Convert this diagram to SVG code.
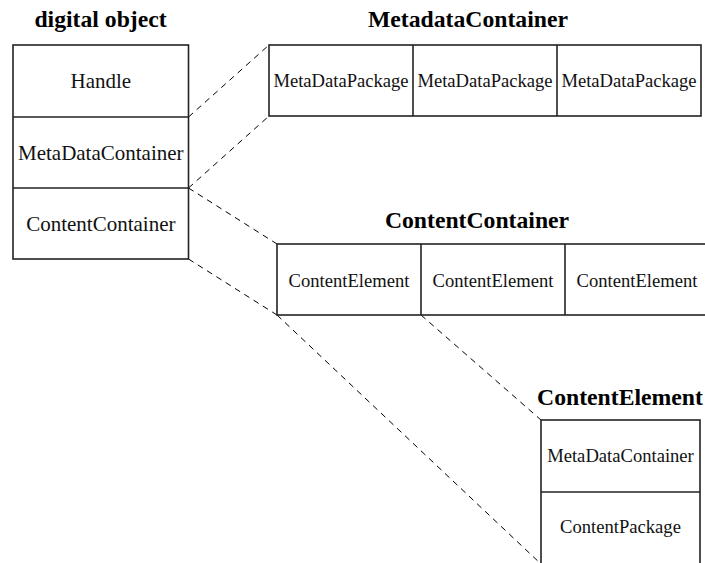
<svg xmlns="http://www.w3.org/2000/svg" width="705" height="563" viewBox="0 0 705 563">
<style>
.box{fill:#fff;stroke:#222;stroke-width:1.6}
.div{stroke:#222;stroke-width:1.6}
.dash{stroke:#000;stroke-width:1;stroke-dasharray:6,5;fill:none}
.title{font-family:"Liberation Serif","Times New Roman",serif;font-weight:bold;font-size:23.7px;text-anchor:middle;fill:#000}
.lbl{font-family:"Liberation Serif","Times New Roman",serif;font-size:18.6px;text-anchor:middle;fill:#111}
.lbl2{font-family:"Liberation Serif","Times New Roman",serif;font-size:21px;text-anchor:middle;fill:#111}
</style>
<rect width="705" height="563" fill="#fff"/>
<g id="connectors">
<line class="dash" x1="188.5" y1="117" x2="269" y2="45"/>
<line class="dash" x1="188.5" y1="188" x2="269" y2="116"/>
<line class="dash" x1="188.5" y1="188" x2="277" y2="244"/>
<line class="dash" x1="188.5" y1="259" x2="277" y2="315"/>
<line class="dash" x1="421" y1="315" x2="541" y2="420"/>
<line class="dash" x1="277" y1="315" x2="541" y2="564"/>
</g>
<g id="digital-object">
<text class="title" x="100.5" y="27">digital object</text>
<rect class="box" x="13" y="45" width="175.5" height="214"/>
<line class="div" x1="13" y1="117" x2="188.5" y2="117"/>
<line class="div" x1="13" y1="188" x2="188.5" y2="188"/>
<text class="lbl2" x="100.8" y="88">Handle</text>
<text class="lbl2" x="100.8" y="159.5">MetaDataContainer</text>
<text class="lbl2" x="100.8" y="230.5">ContentContainer</text>
</g>
<g id="metadata-container">
<text class="title" x="468" y="27">MetadataContainer</text>
<rect class="box" x="269" y="45" width="432" height="71"/>
<line class="div" x1="413" y1="45" x2="413" y2="116"/>
<line class="div" x1="557" y1="45" x2="557" y2="116"/>
<text class="lbl" x="341" y="86.5">MetaDataPackage</text>
<text class="lbl" x="485" y="86.5">MetaDataPackage</text>
<text class="lbl" x="629" y="86.5">MetaDataPackage</text>
</g>
<g id="content-container">
<text class="title" x="477" y="228">ContentContainer</text>
<rect class="box" x="277" y="244" width="434" height="71"/>
<line class="div" x1="421" y1="244" x2="421" y2="315"/>
<line class="div" x1="565" y1="244" x2="565" y2="315"/>
<text class="lbl" x="349" y="286.5">ContentElement</text>
<text class="lbl" x="493" y="286.5">ContentElement</text>
<text class="lbl" x="637" y="286.5">ContentElement</text>
</g>
<g id="content-element">
<text class="title" x="620" y="405">ContentElement</text>
<rect class="box" x="541" y="420" width="159" height="160"/>
<line class="div" x1="541" y1="492" x2="700" y2="492"/>
<text class="lbl" x="620.5" y="462">MetaDataContainer</text>
<text class="lbl" x="620.5" y="533">ContentPackage</text>
</g>
</svg>
